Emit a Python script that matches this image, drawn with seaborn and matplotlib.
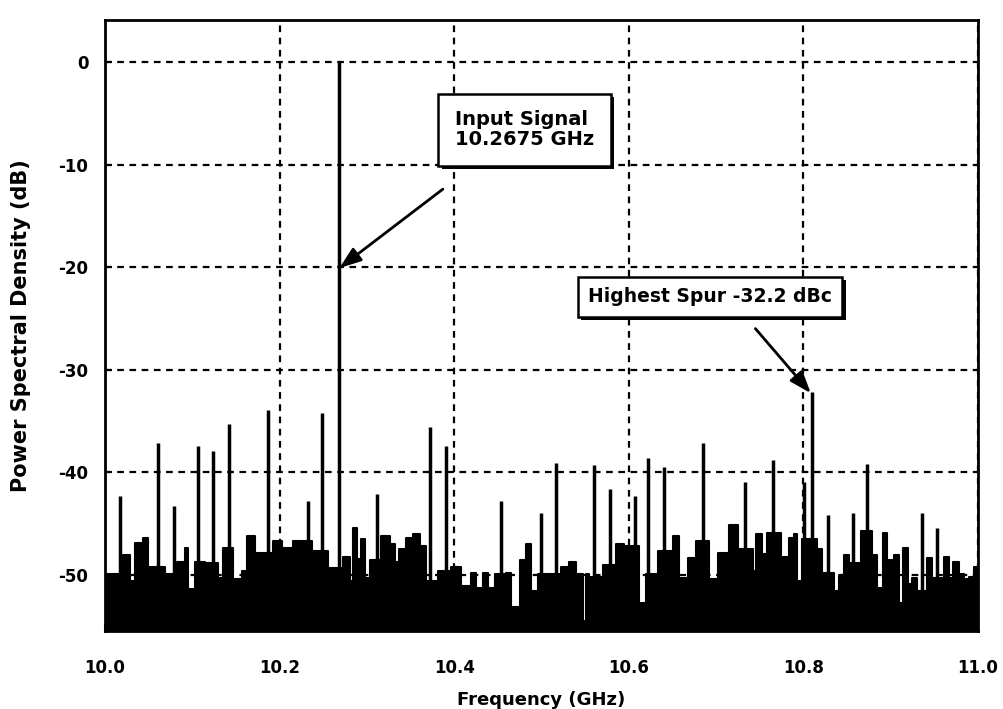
import numpy as np
import pandas as pd
import matplotlib
matplotlib.use("Agg")
import matplotlib.pyplot as plt
import matplotlib.patheffects as pe
import seaborn as sns

# ---- data ----
noise_freq = [10.000, 10.021, 10.029, 10.034, 10.044, 10.049, 10.069, 10.082, 10.092, 10.095,
              10.103, 10.115, 10.129, 10.135, 10.147, 10.157, 10.163, 10.172, 10.192, 10.203,
              10.215, 10.237, 10.255, 10.273, 10.281, 10.284, 10.289, 10.293, 10.298, 10.304,
              10.316, 10.326, 10.332, 10.337, 10.345, 10.353, 10.361, 10.368, 10.381, 10.396,
              10.408, 10.419, 10.425, 10.433, 10.439, 10.447, 10.459, 10.465, 10.475, 10.482,
              10.488, 10.496, 10.505, 10.522, 10.532, 10.540, 10.548, 10.551, 10.554, 10.570,
              10.585, 10.595, 10.612, 10.620, 10.633, 10.651, 10.658, 10.668, 10.677, 10.692,
              10.702, 10.715, 10.725, 10.742, 10.746, 10.753, 10.758, 10.774, 10.784, 10.789,
              10.793, 10.798, 10.816, 10.821, 10.835, 10.841, 10.847, 10.852, 10.866, 10.879,
              10.884, 10.891, 10.896, 10.904, 10.910, 10.914, 10.920, 10.924, 10.930, 10.942,
              10.947, 10.961, 10.967, 10.971, 10.978, 10.984, 10.990, 10.995, 11.000]
noise_db = [-49.9, -48.1, -50.6, -46.9, -46.4, -49.3, -49.9, -48.8, -47.4, -51.4,
            -48.8, -48.9, -50.3, -47.4, -50.4, -49.6, -46.2, -47.9, -46.7, -47.4,
            -46.7, -47.7, -49.4, -48.3, -50.6, -45.5, -48.5, -46.5, -50.3, -48.6,
            -46.2, -47.0, -48.8, -47.5, -46.4, -46.0, -47.2, -50.6, -49.6, -49.3,
            -51.1, -49.8, -51.3, -49.8, -51.3, -49.9, -49.8, -53.2, -48.6, -47.0,
            -51.6, -49.9, -49.9, -49.3, -48.8, -49.9, -54.5, -49.9, -50.2, -49.1,
            -47.0, -47.2, -52.8, -49.9, -47.7, -46.2, -50.3, -48.4, -46.7, -50.4,
            -47.9, -45.2, -47.5, -49.6, -46.0, -48.0, -45.9, -48.3, -46.4, -46.0,
            -50.6, -46.5, -47.5, -49.8, -51.6, -50.1, -48.1, -48.9, -45.7, -48.1,
            -51.3, -45.9, -48.6, -48.1, -52.8, -47.4, -50.9, -50.3, -51.6, -48.4,
            -50.3, -48.3, -50.3, -48.8, -49.9, -50.4, -50.2, -49.3, -49.3]

spike_freq = [10.017, 10.061, 10.079, 10.107, 10.124, 10.142, 10.187, 10.233, 10.249, 10.2675,
              10.312, 10.372, 10.391, 10.454, 10.499, 10.517, 10.560, 10.578, 10.607, 10.622,
              10.640, 10.685, 10.733, 10.765, 10.801, 10.810, 10.828, 10.857, 10.873, 10.936,
              10.953]
spike_db = [-42.3, -37.2, -43.3, -37.5, -37.9, -35.3, -33.9, -42.8, -34.2, 0.0,
            -42.1, -35.6, -37.5, -42.8, -44.0, -39.1, -39.3, -41.6, -42.3, -38.6,
            -39.5, -37.2, -41.0, -38.8, -41.0, -32.2, -44.2, -44.0, -39.2, -44.0,
            -45.5]

x_ticks = [10.0, 10.2, 10.4, 10.6, 10.8, 11.0]
x_tick_labels = ["10.0", "10.2", "10.4", "10.6", "10.8", "11.0"]
y_ticks = [0, -10, -20, -30, -40, -50]
y_tick_labels = ["0", "-10", "-20", "-30", "-40", "-50"]

signal_text = "Input Signal\n10.2675 GHz"
signal_box_at = (10.4805, -6.6)
signal_arrow_tail = (10.387, -12.4)
signal_arrow_tip = (10.2685, -20.1)

spur_text = "Highest Spur -32.2 dBc"
spur_box_at = (10.693, -22.9)
spur_arrow_tail = (10.745, -26.0)
spur_arrow_tip = (10.8085, -32.3)

# ---- styling ----
sns.set_theme(style="ticks")
plt.rcParams["font.family"] = ["DejaVu Sans"]
plt.rcParams["font.weight"] = "bold"
for k in ["text.color", "axes.labelcolor", "xtick.color", "ytick.color", "axes.edgecolor"]:
    plt.rcParams[k] = "black"

fig = plt.figure(figsize=(10.04, 7.09), dpi=100)
ax = fig.add_axes([105 / 1004, 1 - 631 / 709, (978 - 105) / 1004, (631 - 20) / 709])

floor = -56.0
noise = pd.DataFrame({"freq": noise_freq, "db": noise_db})
sns.lineplot(data=noise, x="freq", y="db", drawstyle="steps-post", color="black",
             linewidth=1.5, ax=ax, legend=False)
ax.fill_between(noise["freq"], noise["db"], floor, step="post", color="black", lw=0)

ax.vlines(spike_freq, floor, spike_db, color="black", linewidth=2.5)

ax.set_xlim(10.0, 11.0)
ax.set_ylim(-55.5, 4.1)
ax.set_xticks(x_ticks)
ax.set_xticklabels(x_tick_labels, fontsize=12, fontweight="bold")
ax.set_yticks(y_ticks)
ax.set_yticklabels(y_tick_labels, fontsize=12, fontweight="bold")
ax.tick_params(direction="in", length=5, width=1.5, color="black")
ax.tick_params(axis="y", pad=12)
ax.tick_params(axis="x", pad=20)

ax.grid(True, color="black", linestyle=(0, (3, 2.5)), linewidth=1.6)
for s in ax.spines.values():
    s.set_linewidth(2)
    s.set_color("black")

ax.set_xlabel("Frequency (GHz)", fontsize=13, fontweight="bold", labelpad=10)
ax.set_ylabel("Power Spectral Density (dB)", fontsize=15, fontweight="bold", labelpad=20)

shadow = [pe.SimplePatchShadow(offset=(2.5, -2.5), shadow_rgbFace="black", alpha=1.0), pe.Normal()]
arrow_style = dict(arrowstyle="-|>,head_length=1.1,head_width=0.4", color="black", lw=2,
                   shrinkA=0, shrinkB=0)

t1 = ax.text(*signal_box_at, signal_text, ha="center", va="center", multialignment="left",
             fontsize=14, fontweight="bold", linespacing=1.05,
             bbox=dict(boxstyle="square,pad=0.85", fc="white", ec="black", lw=1.8))
t1.get_bbox_patch().set_path_effects(shadow)
ax.annotate("", xy=signal_arrow_tip, xytext=signal_arrow_tail, arrowprops=arrow_style)

t2 = ax.text(*spur_box_at, spur_text, ha="center", va="center",
             fontsize=13.5, fontweight="bold",
             bbox=dict(boxstyle="square,pad=0.55", fc="white", ec="black", lw=1.8))
t2.get_bbox_patch().set_path_effects(shadow)
ax.annotate("", xy=spur_arrow_tip, xytext=spur_arrow_tail, arrowprops=arrow_style)

fig.savefig("out.png", dpi=100, facecolor="white")
